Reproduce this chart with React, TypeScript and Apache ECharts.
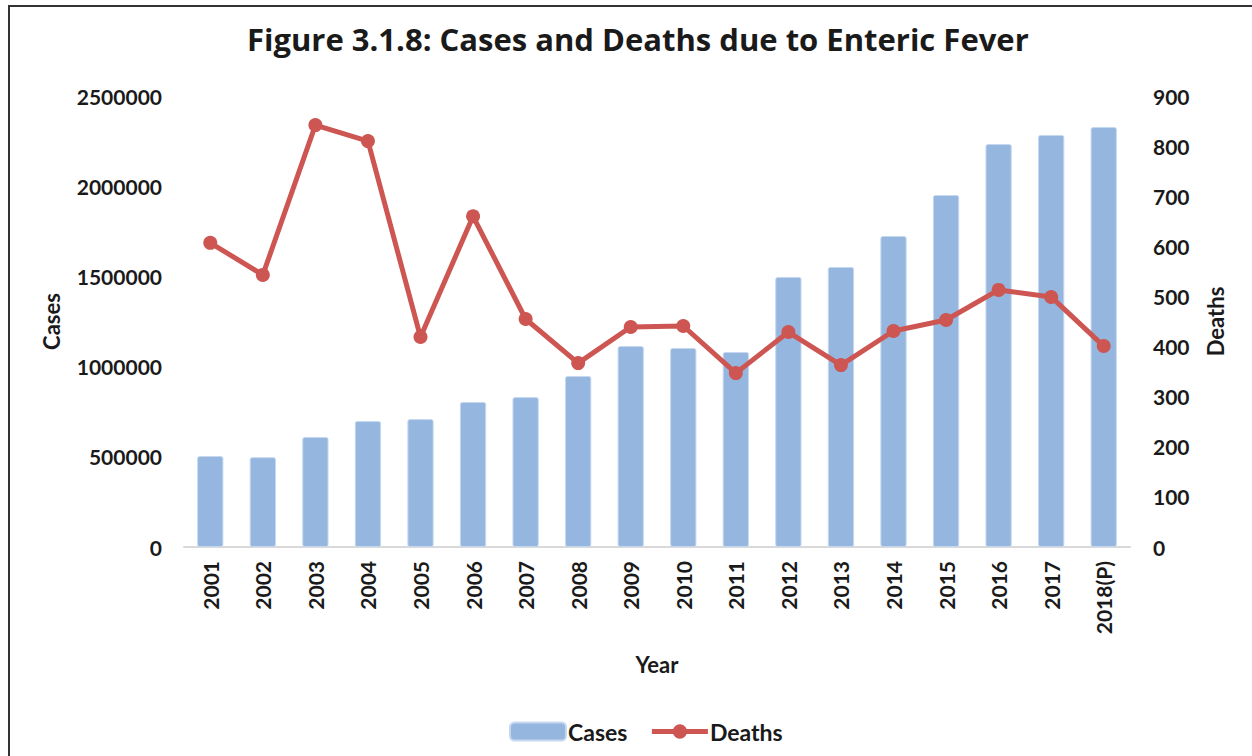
import React, { useEffect, useRef } from "react";
import * as echarts from "echarts";

const years = ["2001","2002","2003","2004","2005","2006","2007","2008","2009","2010","2011","2012","2013","2014","2015","2016","2017","2018(P)"];
const cases = [504000,498000,610000,698000,709000,804000,831000,948000,1114000,1103000,1081000,1497000,1552000,1724000,1951000,2234000,2284000,2328000];
const deaths = [607,543,842,810,419,660,455,367,439,441,347,429,363,431,453,513,499,401];
const casesTicks = { min: 0, max: 2500000, interval: 500000 };
const deathsTicks = { min: 0, max: 900, interval: 100 };

const FONT = "Lato";

export default function App() {
  const ref = useRef<HTMLDivElement>(null);
  useEffect(() => {
    document.body.style.margin = "0";
    const chart = echarts.init(ref.current!, null, { renderer: "svg" });
    const lbl = { fontFamily: FONT, fontWeight: "bold", fontSize: 21, color: "#1a1a1a" };
    chart.setOption({
      animation: false,
      textStyle: { fontFamily: FONT },
      title: {
        text: "Figure 3.1.8: Cases and Deaths due to Enteric Fever",
        left: 242,
        top: 18,
        textStyle: { fontFamily: "Open Sans", fontWeight: "bold", fontSize: 31, color: "#1a1a1a" },
      },
      graphic: [
        { type: "rect", shape: { x: 9, y: 6, width: 1270, height: 780 }, style: { fill: "none", stroke: "#333", lineWidth: 2 }, silent: true },
      ],
      legend: {
        bottom: 8,
        left: 504,
        itemWidth: 56,
        itemHeight: 18,
        itemGap: 22,
        textStyle: { ...lbl, fontSize: 23, padding: [0, 0, 0, -3] },
        data: [
          { name: "Cases", icon: "roundRect" },
          { name: "Deaths", lineStyle: { width: 5 }, itemStyle: { borderWidth: 0 } },
        ],
      },
      grid: { left: 184, right: 122, top: 96, bottom: 209, containLabel: false },
      xAxis: {
        type: "category",
        data: years,
        name: "Year",
        nameLocation: "middle",
        nameGap: 106,
        nameTextStyle: { ...lbl, fontSize: 22 },
        axisLine: { lineStyle: { color: "#d9d9d9", width: 2 } },
        axisTick: { show: false },
        axisLabel: { ...lbl, rotate: 90, margin: 14 },
      },
      yAxis: [
        {
          type: "value",
          ...casesTicks,
          name: "Cases",
          nameLocation: "middle",
          nameGap: 122,
          nameRotate: 90,
          nameTextStyle: { ...lbl, fontSize: 22 },
          splitLine: { show: false },
          axisLine: { show: false },
          axisTick: { show: false },
          axisLabel: { ...lbl, margin: 22, formatter: (v: number) => String(v) },
        },
        {
          type: "value",
          ...deathsTicks,
          name: "Deaths",
          nameLocation: "middle",
          nameGap: 74,
          nameRotate: 90,
          nameTextStyle: { ...lbl, fontSize: 22 },
          splitLine: { show: false },
          axisLine: { show: false },
          axisTick: { show: false },
          axisLabel: { ...lbl, margin: 23, formatter: (v: number) => String(v) },
        },
      ],
      series: [
        {
          name: "Cases",
          type: "bar",
          data: cases,
          barWidth: "50%",
          itemStyle: { color: "#95b6df", borderColor: "#c5d8ef", borderWidth: 1, borderRadius: 2 },
        },
        {
          name: "Deaths",
          type: "line",
          yAxisIndex: 1,
          data: deaths,
          symbol: "circle",
          symbolSize: 14,
          lineStyle: { color: "#cd5653", width: 5 },
          itemStyle: { color: "#cd5653" },
        },
      ],
    });
    return () => chart.dispose();
  }, []);
  return <div ref={ref} style={{ width: 1252, height: 756 }} />;
}
